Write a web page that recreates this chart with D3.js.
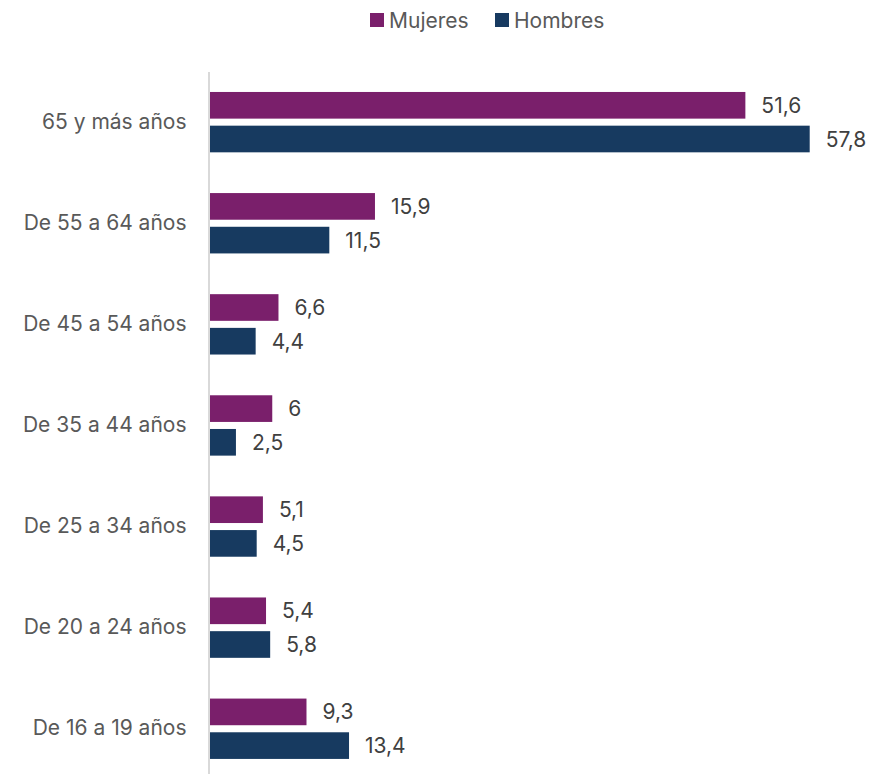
<!DOCTYPE html>
<html><head><meta charset="utf-8">
<script src="https://cdn.jsdelivr.net/npm/d3@7"></script>
<style>body{margin:0;background:#fff}svg{display:block}text{font-family:Inter,"Open Sans",sans-serif}</style>
</head><body><svg id="c" width="871" height="774"></svg>
<script>
const categories = ["65 y más años","De 55 a 64 años","De 45 a 54 años","De 35 a 44 años","De 25 a 34 años","De 20 a 24 años","De 16 a 19 años"];
const seriesNames = ["Mujeres","Hombres"];
const mujeres = [51.6,15.9,6.6,6,5.1,5.4,9.3];
const hombres = [57.8,11.5,4.4,2.5,4.5,5.8,13.4];
const colors = ["#7a1f6b","#173a60"];
const FS = 21;

const svg = d3.select("#c");
const x = d3.scaleLinear().domain([0,57.8]).range([210,809.7]);
const y = d3.scaleBand().domain(categories).range([71.6,779.3]).paddingInner(0.403).paddingOuter(0.2015);
const y2 = d3.scaleBand().domain(seriesNames).range([0,y.bandwidth()]).paddingInner(0.209);
const fmt = v => String(v).replace(".",",");

const data = categories.map((c,i)=>({c, vals:[mujeres[i],hombres[i]]}));
const g = svg.append("g");
const grp = g.selectAll("g.grp").data(data).join("g").attr("transform",d=>`translate(0,${y(d.c)})`);
grp.selectAll("rect").data(d=>d.vals.map((v,j)=>({v,s:seriesNames[j],j}))).join("rect")
  .attr("x",x(0)).attr("y",d=>y2(d.s)).attr("width",d=>x(d.v)-x(0)).attr("height",y2.bandwidth())
  .attr("fill",d=>colors[d.j]);
grp.selectAll("text.v").data(d=>d.vals.map((v,j)=>({v,s:seriesNames[j],j}))).join("text")
  .attr("class","v").attr("x",d=>x(d.v)+16).attr("y",d=>y2(d.s)+y2.bandwidth()/2)
  .attr("dy","0.36em").attr("font-size",FS).attr("fill","#404040").text(d=>fmt(d.v));

const ax = d3.axisLeft(y).tickSize(0).tickPadding(22);
const axg = svg.append("g").attr("transform","translate(208.5,0)").call(ax);
axg.select(".domain").attr("stroke","#d9d9d9").attr("stroke-width",2);
axg.selectAll("text").attr("font-size",FS).attr("fill","#595959").attr("font-family","Inter,'Open Sans',sans-serif");

const lg = svg.append("g");
const lx = [370,495];
seriesNames.forEach((s,i)=>{
  lg.append("rect").attr("x",lx[i]).attr("y",13).attr("width",14).attr("height",14).attr("fill",colors[i]);
  lg.append("text").attr("x",lx[i]+19).attr("y",20).attr("dy","0.36em").attr("font-size",FS).attr("fill","#595959").text(s);
});
</script></body></html>
